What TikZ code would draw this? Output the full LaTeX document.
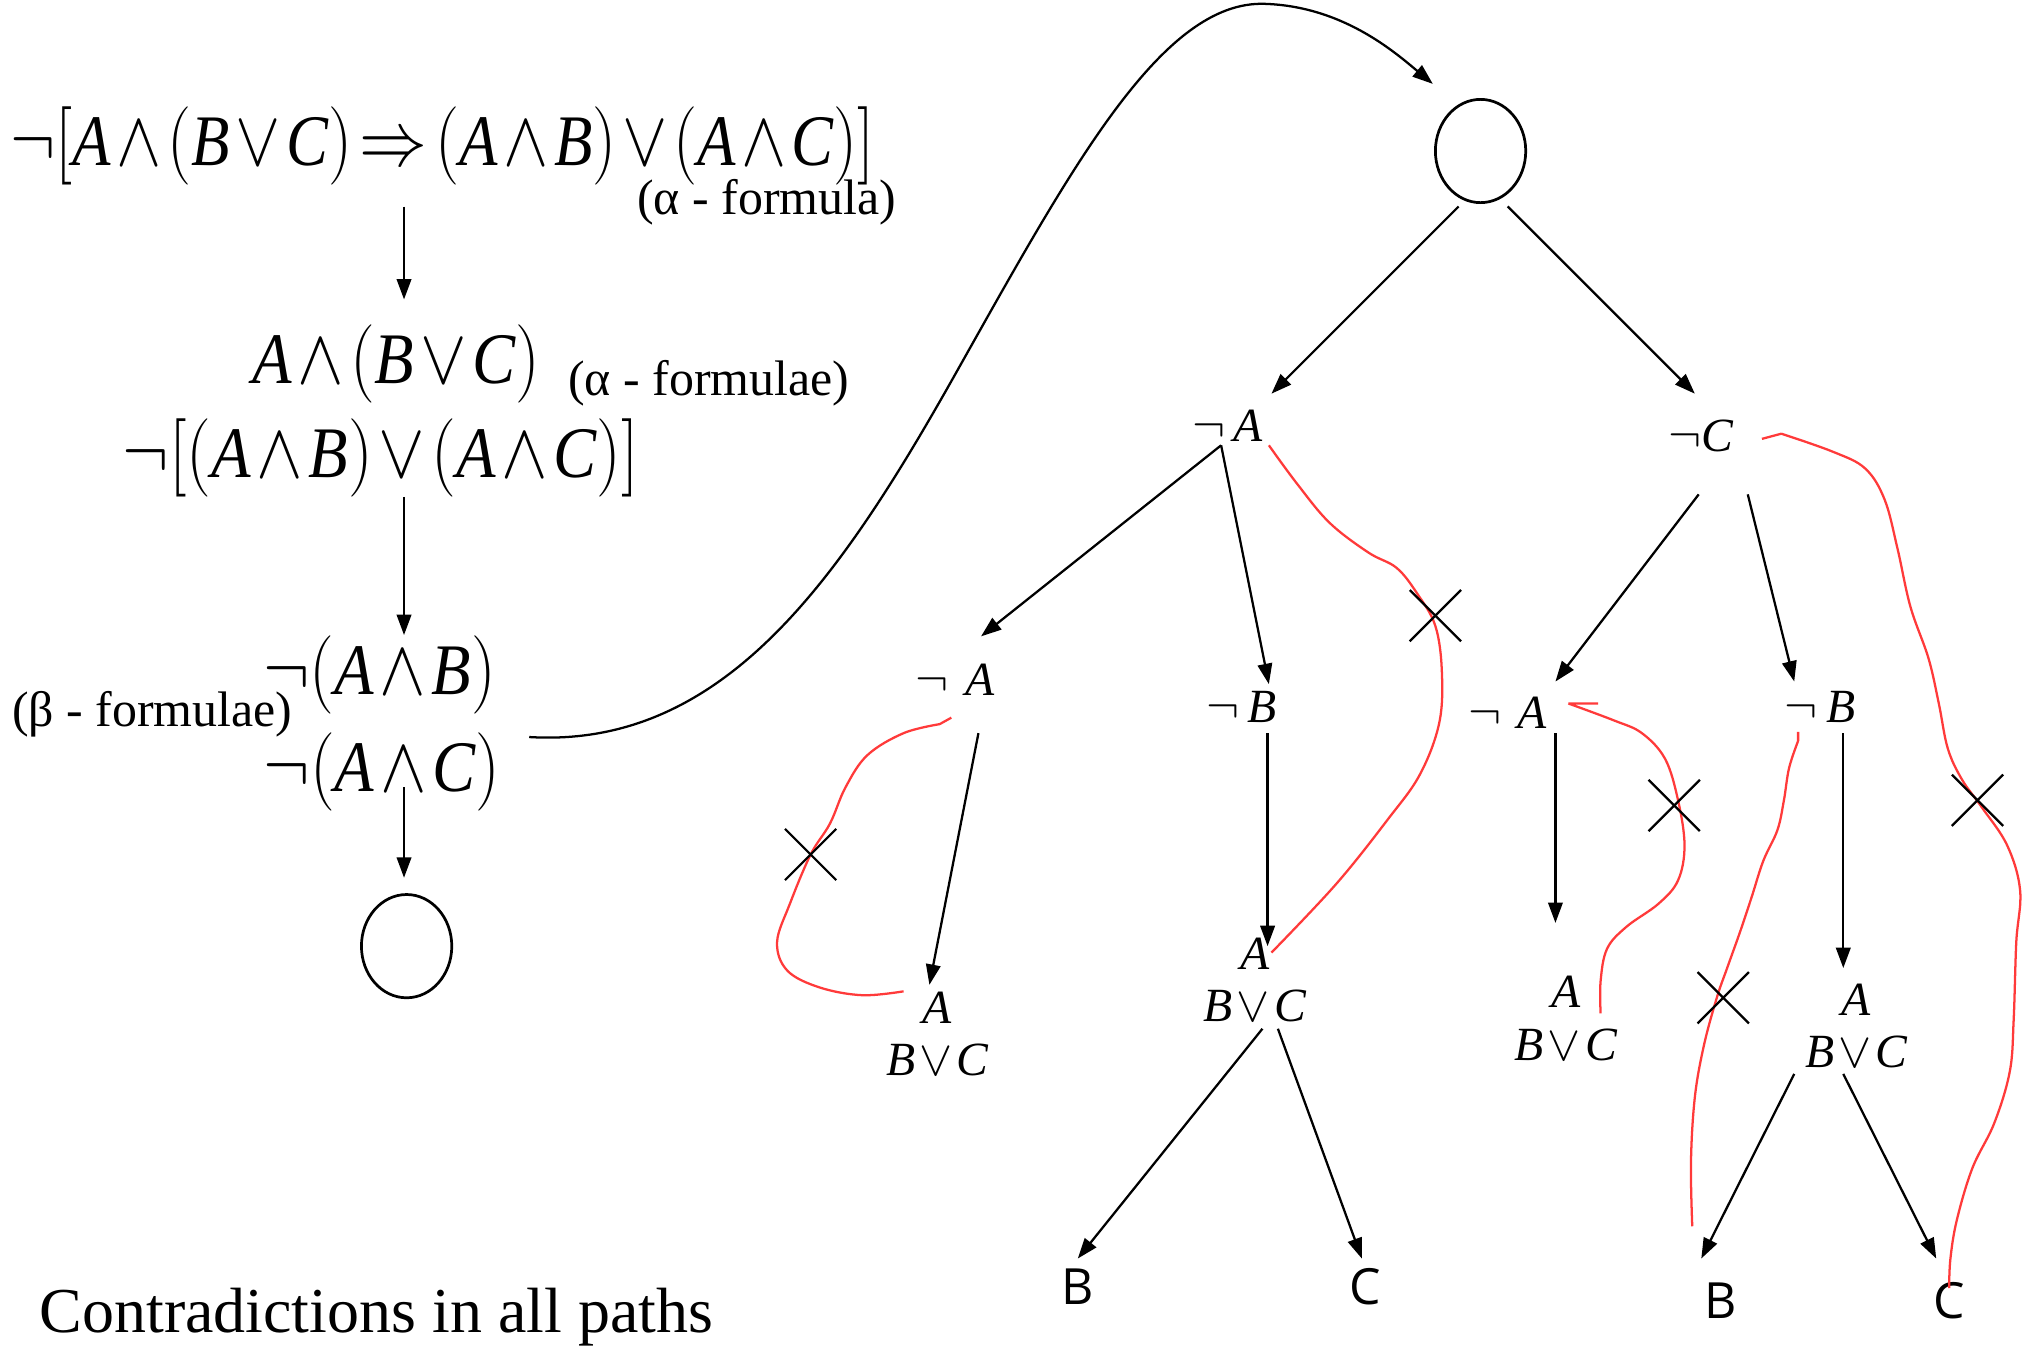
\documentclass[tikz,border=0pt]{standalone}
\usepackage{fontspec}
\setmainfont{Liberation Serif}
\newfontfamily\leafsans{Open Sans}
\usepackage{graphicx}
\usepackage{tikz}
\usetikzlibrary{
  arrows.meta,
  shapes.geometric,
  shapes.misc,
  positioning,
  calc
}
\definecolor{clash}{HTML}{FF3A3A}
\newcommand{\lv}[1]{\textit{#1}}
\newcommand{\slim}[2][0.89]{\scalebox{#1}[1]{#2}}
\medmuskip=1.5mu
\thickmuskip=2mu
\tikzset{
  formula/.style={inner sep=1pt, font=\fontsize{16}{19}\selectfont},
  tag/.style={inner sep=1pt, font=\fontsize{11}{13}\selectfont},
  tnode/.style={inner sep=1pt, align=center, font=\fontsize{10.5}{11.5}\selectfont},
  leaf/.style={inner sep=1pt, font=\fontsize{11}{13}\leafsans},
  hole/.style={draw, ellipse, minimum width=7mm, minimum height=8mm, line width=0.6pt},
  flow/.style={-{Triangle[length=4.5pt, width=3.2pt]}, line width=0.5pt},
  clashpath/.style={draw=clash, line width=0.5pt, line join=round},
  crossmark/.style={draw, cross out, line width=0.5pt, minimum width=3.8mm, minimum height=3.8mm, inner sep=0pt}
}

\begin{document}
\begin{tikzpicture}[x=0.1mm, y=-0.1mm]
  \useasboundingbox (0,0) rectangle (1568,1045);

  % left column: the alpha / beta expansion
  \node[formula] (f0) at (343,113) {\slim[0.865]{$\neg\bigl[\lv{A}\wedge\bigl(\lv{B}\vee\lv{C}\bigr)\Rightarrow\bigl(\lv{A}\wedge\lv{B}\bigr)\vee\bigl(\lv{A}\wedge\lv{C}\bigr)\bigr]$}};
  \node[tag] (t0) at (594,157) {(α - formula)};
  \node[formula] (f1) at (307,282) {\slim{$\lv{A}\wedge\bigl(\lv{B}\vee\lv{C}\bigr)$}};
  \node[tag] (t1) at (549,297) {(α - formulae)};
  \node[formula] (f2) at (295,355) {\slim{$\neg\bigl[\bigl(\lv{A}\wedge\lv{B}\bigr)\vee\bigl(\lv{A}\wedge\lv{C}\bigr)\bigr]$}};
  \node[formula] (f3) at (294,523) {\slim{$\neg\bigl(\lv{A}\wedge\lv{B}\bigr)$}};
  \node[tag] (t3) at (118,553) {(β - formulae)};
  \node[formula] (f4) at (296,598) {\slim{$\neg\bigl(\lv{A}\wedge\lv{C}\bigr)$}};
  \node[hole] (c0) at (315,733) {};
  \node[anchor=west, inner sep=0pt, font=\fontsize{14.1}{17}\selectfont] (note) at (30,1020) {Contradictions in all paths};

  \draw[flow] ([shift={(-30,47)}]f0.center) -- ([shift={(6,-50)}]f1.center);
  \draw[flow] ([shift={(18,30)}]f2.center) -- ([shift={(19,-31)}]f3.center);
  \draw[flow] ([shift={(17,12)}]f4.center) -- ([shift={(-2,-53)}]c0.center);

  % tableau
  \node[hole] (top) at (1147,117) {};
  \node[tnode] (nA1) at (951,330) {$\neg\,\lv{A}$};
  \node[tnode] (nC1) at (1318,338) {$\neg\lv{C}$};
  \node[tnode] (nA2) at (740,527) {$\neg\,\,\lv{A}$};
  \node[tnode] (nB2) at (962,548) {$\neg\,\lv{B}$};
  \node[tnode] (nA3) at (1168,552) {$\neg\,\,\lv{A}$};
  \node[tnode] (nB3) at (1410,548) {$\neg\,\lv{B}$};
  \node[tnode] (l1) at (726,801) {$\lv{A}$\\$\lv{B}\vee\lv{C}$};
  \node[tnode] (l2) at (972,759) {$\lv{A}$\\$\lv{B}\vee\lv{C}$};
  \node[tnode] (l3) at (1213,789) {$\lv{A}$\\$\lv{B}\vee\lv{C}$};
  \node[tnode] (l4) at (1438,795) {$\lv{A}$\\$\lv{B}\vee\lv{C}$};
  \node[leaf] (b1) at (835,997) {B};
  \node[leaf] (c1) at (1058,997) {C};
  \node[leaf] (b2) at (1333,1008) {B};
  \node[leaf] (c2) at (1510,1008) {C};

  \draw[flow] ([shift={(114,-27)}]f4.center) .. controls (560,580) and (650,450) .. (740,290)
    .. controls (830,130) and (900,0) .. (980,3) .. controls (1040,5) and (1080,40) .. ([shift={(-37,-52)}]top.center);

  \draw[flow] ([shift={(-17,43)}]top.center) -- ([shift={(34,-25)}]nA1.center);
  \draw[flow] ([shift={(21,43)}]top.center) -- ([shift={(-5,-33)}]nC1.center);
  \draw[flow] ([shift={(-5,15)}]nA1.center) -- ([shift={(20,-34)}]nA2.center);
  \draw[flow] ([shift={(-5,15)}]nA1.center) -- ([shift={(21,-18)}]nB2.center);
  \draw[flow] ([shift={(-2,45)}]nC1.center) -- ([shift={(37,-24)}]nA3.center);
  \draw[flow] ([shift={(36,45)}]nC1.center) -- ([shift={(-20,-20)}]nB3.center);
  \draw[flow] ([shift={(18,41)}]nA2.center) -- ([shift={(-6,-38)}]l1.center);
  \draw[flow] ([shift={(20,20)}]nB2.center) -- ([shift={(10,-26)}]l2.center);
  \draw[flow] ([shift={(37,16)}]nA3.center) -- ([shift={(-8,-74)}]l3.center);
  \draw[flow] ([shift={(18,20)}]nB3.center) -- ([shift={(-10,-45)}]l4.center);
  \draw[flow] ([shift={(6,38)}]l2.center) -- ([shift={(0,-22)}]b1.center);
  \draw[flow] ([shift={(18,38)}]l2.center) -- ([shift={(-3,-22)}]c1.center);
  \draw[flow] ([shift={(-48,37)}]l4.center) -- ([shift={(-15,-33)}]b2.center);
  \draw[flow] ([shift={(-10,37)}]l4.center) -- ([shift={(-10,-33)}]c2.center);

  % closed paths
  \draw[clashpath] ([shift={(-3,29)}]nA2.center) -- (728,561) plot[smooth, tension=0.6] coordinates {(728,561) (700,568) (672,585) (655,610) (643,638) (628,662) (612,700) (602,730) (610,752) (635,765) (668,771) ([shift={(-26,-33)}]l1.center)};
  \draw[clashpath] plot[smooth, tension=0.6] coordinates {([shift={(32,15)}]nA1.center) (1005,375) (1030,405) (1060,428) (1082,440) (1098,460) (1112,485) (1117,520) (1115,560) (1100,600) (1075,635) (1035,685) ([shift={(13,-21)}]l2.center)};
  \draw[clashpath] ([shift={(70,-7)}]nA3.center) -- (1215,545) plot[smooth, tension=0.6] coordinates {(1215,545) (1250,558) (1272,568) (1290,588) (1300,620) (1305,655) (1300,682) (1285,700) (1260,718) (1245,735) (1240,760) ([shift={(27,-4)}]l3.center)};
  \draw[clashpath] ([shift={(-17,19)}]nB3.center) -- (1393,574) plot[smooth, tension=0.6] coordinates {(1393,574) (1386,595) (1382,620) (1377,643) (1366,667) (1357,695) (1348,722) (1338,750) (1330,773) (1320,810) (1313,850) (1310,900) ([shift={(-22,-58)}]b2.center)};
  \draw[clashpath] ([shift={(47,2)}]nC1.center) -- (1380,336) plot[smooth, tension=0.6] coordinates {(1380,336) (1420,350) (1445,363) (1460,387) (1470,425) (1480,470) (1494,510) (1502,545) (1509,580) (1520,604) (1535,625) (1555,655) (1565,690) (1562,730) (1560,790) (1557,830) (1545,870) (1528,905) (1516,945) (1511,975) ([shift={(0,-10)}]c2.center)};

  \node[crossmark] (x1) at (628,662) {};
  \node[crossmark] (x2) at (1112,477) {};
  \node[crossmark] (x3) at (1297,624) {};
  \node[crossmark] (x4) at (1335,773) {};
  \node[crossmark] (x5) at (1532,620) {};
\end{tikzpicture}
\end{document}
